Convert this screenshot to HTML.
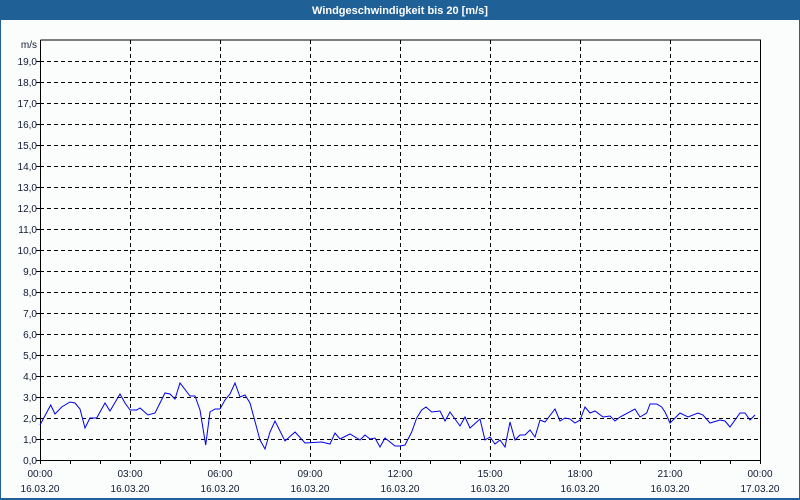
<!DOCTYPE html>
<html><head><meta charset="utf-8"><style>
html,body{margin:0;padding:0;background:#fbfdfc}
svg{display:block}
text{font-family:"Liberation Sans","DejaVu Sans",sans-serif;font-size:10px;fill:#111a33}
</style></head><body>
<svg width="800" height="500" xmlns="http://www.w3.org/2000/svg">
<rect x="0" y="0" width="800" height="500" fill="#fbfdfc"/>
<rect x="0" y="0" width="800" height="20" fill="#1f6096"/>
<rect x="0" y="0" width="1" height="500" fill="#1f6096"/>
<rect x="799" y="0" width="1" height="500" fill="#1f6096"/>
<rect x="0" y="498" width="800" height="2" fill="#1f6096"/>
<text x="400" y="14" text-anchor="middle" style="fill:#fff;font-weight:bold;font-size:11px">Windgeschwindigkeit bis 20 [m/s]</text>
<g stroke="#000" stroke-width="1" stroke-dasharray="4,3" shape-rendering="crispEdges">
<path d="M40 61.5H760M40 82.5H760M40 103.5H760M40 124.5H760M40 145.5H760M40 166.5H760M40 187.5H760M40 208.5H760M40 229.5H760M40 250.5H760M40 271.5H760M40 292.5H760M40 313.5H760M40 334.5H760M40 355.5H760M40 376.5H760M40 397.5H760M40 418.5H760M40 439.5H760"/>
<path d="M130.5 40V460M220.5 40V460M310.5 40V460M400.5 40V460M490.5 40V460M580.5 40V460M670.5 40V460"/>
</g>
<g stroke="#000" stroke-width="1" shape-rendering="crispEdges" fill="none">
<path d="M40.5 40V460.5H760.5V40H40.5"/>
<path d="M40.5 460v4M70.5 460v4M100.5 460v4M130.5 460v4M160.5 460v4M190.5 460v4M220.5 460v4M250.5 460v4M280.5 460v4M310.5 460v4M340.5 460v4M370.5 460v4M400.5 460v4M430.5 460v4M460.5 460v4M490.5 460v4M520.5 460v4M550.5 460v4M580.5 460v4M610.5 460v4M640.5 460v4M670.5 460v4M700.5 460v4M730.5 460v4M760.5 460v4"/>
<path d="M36 61.5h4M36 82.5h4M36 103.5h4M36 124.5h4M36 145.5h4M36 166.5h4M36 187.5h4M36 208.5h4M36 229.5h4M36 250.5h4M36 271.5h4M36 292.5h4M36 313.5h4M36 334.5h4M36 355.5h4M36 376.5h4M36 397.5h4M36 418.5h4M36 439.5h4M36 460.5h4"/>
</g>
<g text-anchor="end">
<text x="37" y="48">m/s</text>
<text x="37" y="65">19,0</text><text x="37" y="86">18,0</text><text x="37" y="107">17,0</text><text x="37" y="128">16,0</text><text x="37" y="149">15,0</text><text x="37" y="170">14,0</text><text x="37" y="191">13,0</text><text x="37" y="212">12,0</text><text x="37" y="233">11,0</text><text x="37" y="254">10,0</text><text x="37" y="275">9,0</text><text x="37" y="296">8,0</text><text x="37" y="317">7,0</text><text x="37" y="338">6,0</text><text x="37" y="359">5,0</text><text x="37" y="380">4,0</text><text x="37" y="401">3,0</text><text x="37" y="422">2,0</text><text x="37" y="443">1,0</text><text x="37" y="464">0,0</text>
</g>
<g text-anchor="middle">
<text x="40" y="477">00:00</text><text x="40" y="492">16.03.20</text>
<text x="130" y="477">03:00</text><text x="130" y="492">16.03.20</text>
<text x="220" y="477">06:00</text><text x="220" y="492">16.03.20</text>
<text x="310" y="477">09:00</text><text x="310" y="492">16.03.20</text>
<text x="400" y="477">12:00</text><text x="400" y="492">16.03.20</text>
<text x="490" y="477">15:00</text><text x="490" y="492">16.03.20</text>
<text x="580" y="477">18:00</text><text x="580" y="492">16.03.20</text>
<text x="670" y="477">21:00</text><text x="670" y="492">16.03.20</text>
<text x="760" y="477">00:00</text><text x="760" y="492">17.03.20</text>
</g>
<polyline fill="none" stroke="#0000ee" stroke-width="1" points="40,425 50.7,405 55,414 61.7,407 70,402 75,403 80,409 85,428 90,418 96.7,418 105,403 110,411 120,394 125,403 130,410 136.7,410 140,408 148,415 155,413 165,393 170,394 175,399 180,383 190,396 195,396 200,410 205.7,445 210,412 215,409 220,409 225,400 230,394 235,383 240,397 245,395 250,403 260,440 265,449 270,432 275,421 285,441 295,432 305,443 321.7,442 330,444 335,433 340,439 350,434 360,440 365,435 370,439 375,438 380,447 385,438 395,446 400,446 405,445 411.7,432 416.7,418 421.7,410 426,407 431.7,412 440,411 445,421 450,412 460,426 465,417 470,428 480,419 485,440 490,437 495,444 500,440 505,447 510,422 515,440 520,435 525,435 530,430 535,437 540,420 545,422 555,409 560,421 565,418 570,419 575,423 580,420 585,407 590,413 595,411 603,417 610,416 615,421 620,417 635,409 640,417 646.7,413 650,404 656.7,404 661.7,407 665,412 670,423 675,418 680,413 688,417 698,413 703,415 710,423 720,420 725,421 730,427 740,413 745,413 750,420 755,415"/>
</svg>
</body></html>
